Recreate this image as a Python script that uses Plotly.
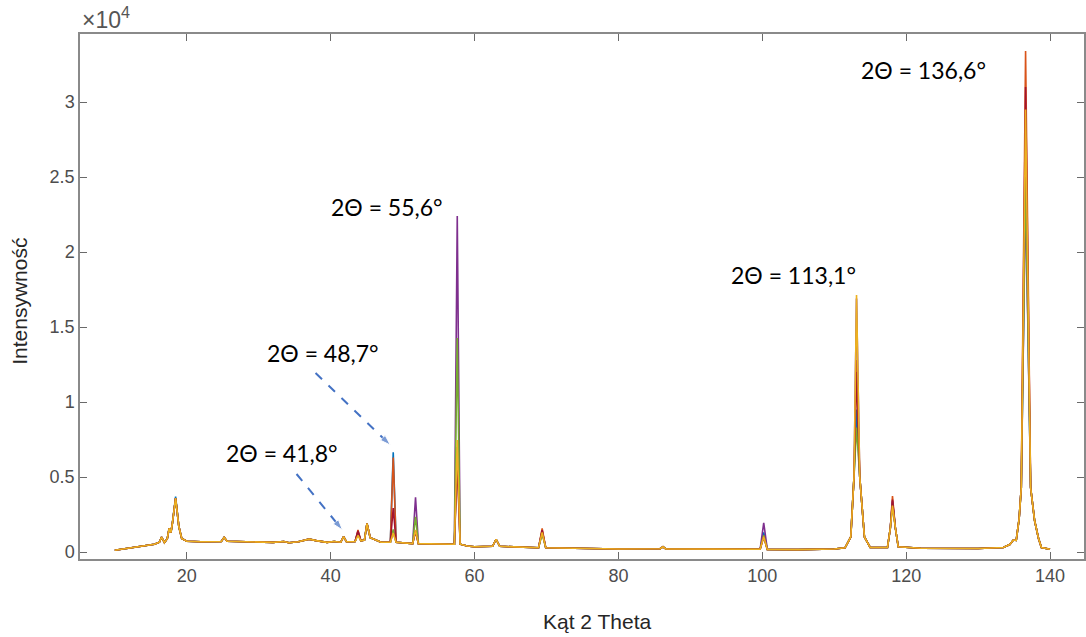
import plotly.graph_objects as go

# ---------------- data ----------------
# shared sample points (2-theta, degrees) and shared baseline / peak-foot intensities
two_theta = [10.0, 12.0, 14.0, 15.5, 16.2, 16.5, 16.9, 17.3, 17.55, 17.8, 18.0, 18.45, 18.9, 19.3,
             20.0, 22.0, 24.8, 25.2, 25.6, 28.0, 30.0, 32.0, 33.5, 34.2, 35.5, 37.0, 38.0, 39.5,
             40.5, 41.4, 41.8, 42.2, 43.4, 43.8, 44.2, 44.7, 45.05, 45.5, 46.2, 47.0, 48.3, 48.7,
             49.1, 51.4, 51.8, 52.2, 57.2, 57.6, 58.0, 59.0, 60.0, 62.5, 63.0, 63.5, 68.9, 69.4,
             69.9, 75.0, 80.0, 85.8, 86.2, 86.6, 92.0, 99.7, 100.2, 100.7, 105.0, 110.0, 111.5,
             112.3, 112.75, 113.1, 113.55, 114.2, 115.0, 117.4, 117.8, 118.1, 118.5, 118.9, 122.0,
             130.0, 133.5, 134.4, 134.9, 135.3, 135.7, 136.0, 136.6, 137.3, 137.85, 138.4, 138.8,
             140.0]
baseline = [120, 250, 380, 520, 650, 1000, 620, 900, 1580, 1300, 1900, 3600, 1700, 900,
            720, 680, 700, 980, 720, 680, 650, 640, 700, 620, 680, 860, 760, 640,
            700, 650, 1020, 680, 700, 1400, 750, 800, 1900, 950, 820, 650, 650, 1000,
            650, 560, 1400, 560, 520, 6000, 520, 400, 350, 380, 850, 380, 280, 1400,
            280, 230, 200, 220, 350, 210, 180, 180, 1000, 170, 160, 200, 280,
            1000, 5000, 9000, 5000, 1000, 300, 300, 1600, 3300, 1600, 350, 250,
            230, 300, 500, 800, 780, 2200, 4300, 25000, 4300, 2100, 900, 300,
            180]

# peak positions and peak-top heights of each measured series
peak_pos = [18.45, 43.8, 48.7, 51.8, 57.6, 69.4, 100.2, 113.1, 118.1, 136.6]
series_names = ["Próbka 1", "Próbka 2", "Próbka 3", "Próbka 4", "Próbka 5", "Próbka 6"]
series_colors = ["#0072BD", "#D95319", "#7E2F8E", "#77AC30", "#A2142F", "#EDB120"]
peaks_s1 = [3700, 1300, 6650, 1400, 7000, 1400, 1300, 9500, 3300, 24800]
peaks_s2 = [3600, 1470, 6300, 1400, 6500, 1580, 1100, 12800, 3730, 33400]
peaks_s3 = [3600, 1350, 1300, 3650, 22400, 1300, 1950, 16900, 3400, 24000]
peaks_s4 = [3550, 1250, 1500, 2350, 14270, 1200, 1100, 8300, 3200, 25000]
peaks_s5 = [3600, 1400, 2930, 1400, 6000, 1450, 1000, 12000, 3500, 31000]
peaks_s6 = [3600, 1100, 1270, 1470, 7470, 1300, 1020, 17130, 3100, 29500]
all_peaks = [peaks_s1, peaks_s2, peaks_s3, peaks_s4, peaks_s5, peaks_s6]

# annotation texts and arrow end points (2-theta, intensity)
labels = ["2Θ = 136,6°", "2Θ = 113,1°", "2Θ = 55,6°", "2Θ = 48,7°", "2Θ = 41,8°"]
label_x = [122.4, 104.35, 47.9, 38.9, 33.2]
label_y = [32130, 18470, 23000, 13300, 6600]
arrow1_x = [37.9, 48.3]
arrow1_y = [11930, 7130]
arrow2_x = [35.26, 41.64]
arrow2_y = [5200, 1470]

x_ticks = [20, 40, 60, 80, 100, 120, 140]
y_ticks = [0, 5000, 10000, 15000, 20000, 25000, 30000]
y_tick_text = ["0", "0.5", "1", "1.5", "2", "2.5", "3"]

# ---------------- figure ----------------
fig = go.Figure()
for name, color, pk in zip(series_names, series_colors, all_peaks):
    y = list(baseline)
    for p, h in zip(peak_pos, pk):
        y[two_theta.index(p)] = h
    fig.add_trace(go.Scatter(x=two_theta, y=y, mode="lines", name=name,
                             line=dict(color=color, width=1.6), showlegend=False))

for ax_, ay_ in [(arrow1_x, arrow1_y), (arrow2_x, arrow2_y)]:
    fig.add_trace(go.Scatter(x=ax_, y=ay_, mode="lines+markers", showlegend=False,
                             line=dict(color="#4472C4", width=2, dash="dash"),
                             marker=dict(symbol="arrow", angleref="previous", size=[0, 11],
                                         color="#4472C4")))

for t, lx, ly in zip(labels, label_x, label_y):
    fig.add_annotation(x=lx, y=ly, text=t, showarrow=False,
                       font=dict(family="Lato, Open Sans, sans-serif", size=23, color="#000000"))

fig.add_annotation(xref="paper", yref="paper", x=0, y=1.0, yshift=-1, xanchor="left", yanchor="bottom",
                   text="×10<sup>4</sup>", showarrow=False,
                   font=dict(family="Liberation Sans, Arial", size=23, color="#555555"))
fig.add_annotation(xref="paper", yref="paper", x=0.515, y=0, yshift=-62, xanchor="center",
                   yanchor="middle", text="Kąt 2 Theta", showarrow=False,
                   font=dict(family="Liberation Sans, Arial", size=21, color="#262626"))
fig.add_annotation(xref="paper", yref="paper", x=0, xshift=-60, y=0.49, xanchor="center",
                   yanchor="middle", text="Intensywność", textangle=-90, showarrow=False,
                   font=dict(family="Liberation Sans, Arial", size=21, color="#262626"))

axis_common = dict(showline=True, linecolor="#8a8a8a", linewidth=1.5, mirror="ticks",
                   ticks="inside", ticklen=7, tickcolor="#6a6a6a", tickwidth=1.2,
                   showgrid=False, zeroline=False,
                   tickfont=dict(family="Liberation Sans, Arial", size=18, color="#4d4d4d"))

fig.update_layout(
    width=1086, height=637,
    margin=dict(l=80, r=0, t=34, b=78),
    paper_bgcolor="white", plot_bgcolor="white",
    xaxis=dict(range=[5.16, 144.72], tickvals=x_ticks, **axis_common),
    yaxis=dict(range=[-467, 34533], tickvals=y_ticks, ticktext=y_tick_text, **axis_common),
)

fig.write_html("out.html")
